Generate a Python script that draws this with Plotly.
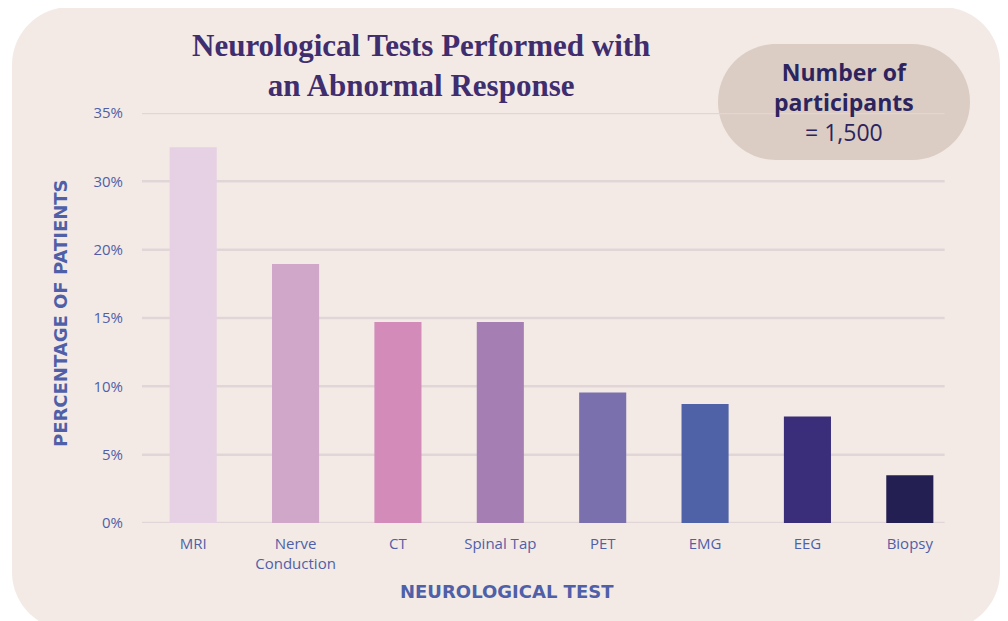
import plotly.graph_objects as go

# chart data (bar heights read against the gridlines; the source axis skips 25%)
tests = ["MRI", "Nerve<br>Conduction", "CT", "Spinal Tap", "PET", "EMG", "EEG", "Biopsy"]
pct_position = [27.5, 18.95, 14.7, 14.7, 9.55, 8.7, 7.8, 3.5]
bar_colors = ["#E6D0E4", "#D0A6C9", "#D38BBA", "#A57FB3", "#7B70AE", "#4F61A7", "#3A2E7A", "#241F53"]
tick_vals = [0, 5, 10, 15, 20, 25, 30]
tick_text = ["0%", "5%", "10%", "15%", "20%", "30%", "35%"]

# page body has an 8px margin, so the figure sits at (8, 8) in the window
OFF = 8
W, H = 1000, 613
L, T = 142 - OFF, 113 - OFF
R = W - (961 - OFF)
B = H - (523 - OFF)
PW, PH = W - L - R, H - T - B

PANEL = "#F3EAE6"
BADGE = "#DBCDC3"
GRID = "#E2D5D8"
AXIS_BLUE = "#4F5FA8"
TITLE_PURPLE = "#3F2D6E"
BADGE_TEXT = "#2B245E"


def px_x(x):
    # window pixel -> paper
    return (x - OFF - L) / PW


def px_y(y):
    return (H - B - (y - OFF)) / PH


def rounded_rect(x0, y0, x1, y1, r):
    k = 0.5523 * r
    pts = [
        ("M", [(x0 + r, y0)]),
        ("L", [(x1 - r, y0)]),
        ("C", [(x1 - r + k, y0), (x1, y0 + r - k), (x1, y0 + r)]),
        ("L", [(x1, y1 - r)]),
        ("C", [(x1, y1 - r + k), (x1 - r + k, y1), (x1 - r, y1)]),
        ("L", [(x0 + r, y1)]),
        ("C", [(x0 + r - k, y1), (x0, y1 - r + k), (x0, y1 - r)]),
        ("L", [(x0, y0 + r)]),
        ("C", [(x0, y0 + r - k), (x0 + r - k, y0), (x0 + r, y0)]),
    ]
    out = ""
    for cmd, coords in pts:
        out += cmd + " " + " ".join(f"{px_x(a):.5f},{px_y(b):.5f}" for a, b in coords) + " "
    return out + "Z"


fig = go.Figure()
fig.add_trace(go.Bar(
    x=list(range(len(tests))), y=pct_position,
    marker=dict(color=bar_colors, line=dict(width=0)),
    hoverinfo="skip",
))

shapes = [
    dict(type="path", xref="paper", yref="paper", layer="below",
         path=rounded_rect(12, 7, 1000, 630, 58), fillcolor=PANEL, line=dict(width=0)),
    dict(type="path", xref="paper", yref="paper", layer="below",
         path=rounded_rect(718, 44, 970, 160, 58), fillcolor=BADGE, line=dict(width=0)),
]
for v in tick_vals:
    shapes.append(dict(type="line", xref="x", yref="y", layer="below",
                       x0=-0.52, x1=7.34, y0=v, y1=v,
                       line=dict(color=GRID, width=2.5)))

annotations = [
    dict(text="<b>Neurological Tests Performed with<br>an Abnormal Response</b>",
         xref="paper", yref="paper", x=px_x(421), y=px_y(66), xanchor="center", yanchor="middle",
         showarrow=False, align="center",
         font=dict(family="Liberation Serif, serif", size=31, color=TITLE_PURPLE)),
    dict(text="<b>Number of<br>participants</b><br>= 1,500",
         xref="paper", yref="paper", x=px_x(844), y=px_y(102), xanchor="center", yanchor="middle",
         showarrow=False, align="center",
         font=dict(family="Open Sans, sans-serif", size=23, color=BADGE_TEXT)),
    dict(text="<b>PERCENTAGE OF PATIENTS</b>", textangle=-90,
         xref="paper", yref="paper", x=px_x(60), y=px_y(313), xanchor="center", yanchor="middle",
         showarrow=False, font=dict(family="DejaVu Sans, sans-serif", size=18, color=AXIS_BLUE)),
    dict(text="<b>NEUROLOGICAL TEST</b>",
         xref="paper", yref="paper", x=px_x(507), y=px_y(591), xanchor="center", yanchor="middle",
         showarrow=False, font=dict(family="DejaVu Sans, sans-serif", size=18, color=AXIS_BLUE)),
]

fig.update_layout(
    width=W, height=H,
    margin=dict(l=L, r=R, t=T, b=B),
    paper_bgcolor="white", plot_bgcolor="rgba(0,0,0,0)",
    bargap=0.54, showlegend=False,
    shapes=shapes, annotations=annotations,
    font=dict(family="Open Sans, sans-serif", color=AXIS_BLUE),
    xaxis=dict(
        range=[-0.5, 7.5], tickmode="array", tickvals=list(range(len(tests))), ticktext=tests,
        showgrid=False, zeroline=False, showline=False, ticks="",
        tickfont=dict(size=15, color=AXIS_BLUE), ticklabelstandoff=10, fixedrange=True,
    ),
    yaxis=dict(
        range=[0, 30], tickmode="array", tickvals=tick_vals, ticktext=tick_text,
        showgrid=False, zeroline=False, showline=False, ticks="",
        tickfont=dict(size=15, color=AXIS_BLUE), ticklabelstandoff=18, fixedrange=True,
    ),
)

fig.write_html("out.html")
